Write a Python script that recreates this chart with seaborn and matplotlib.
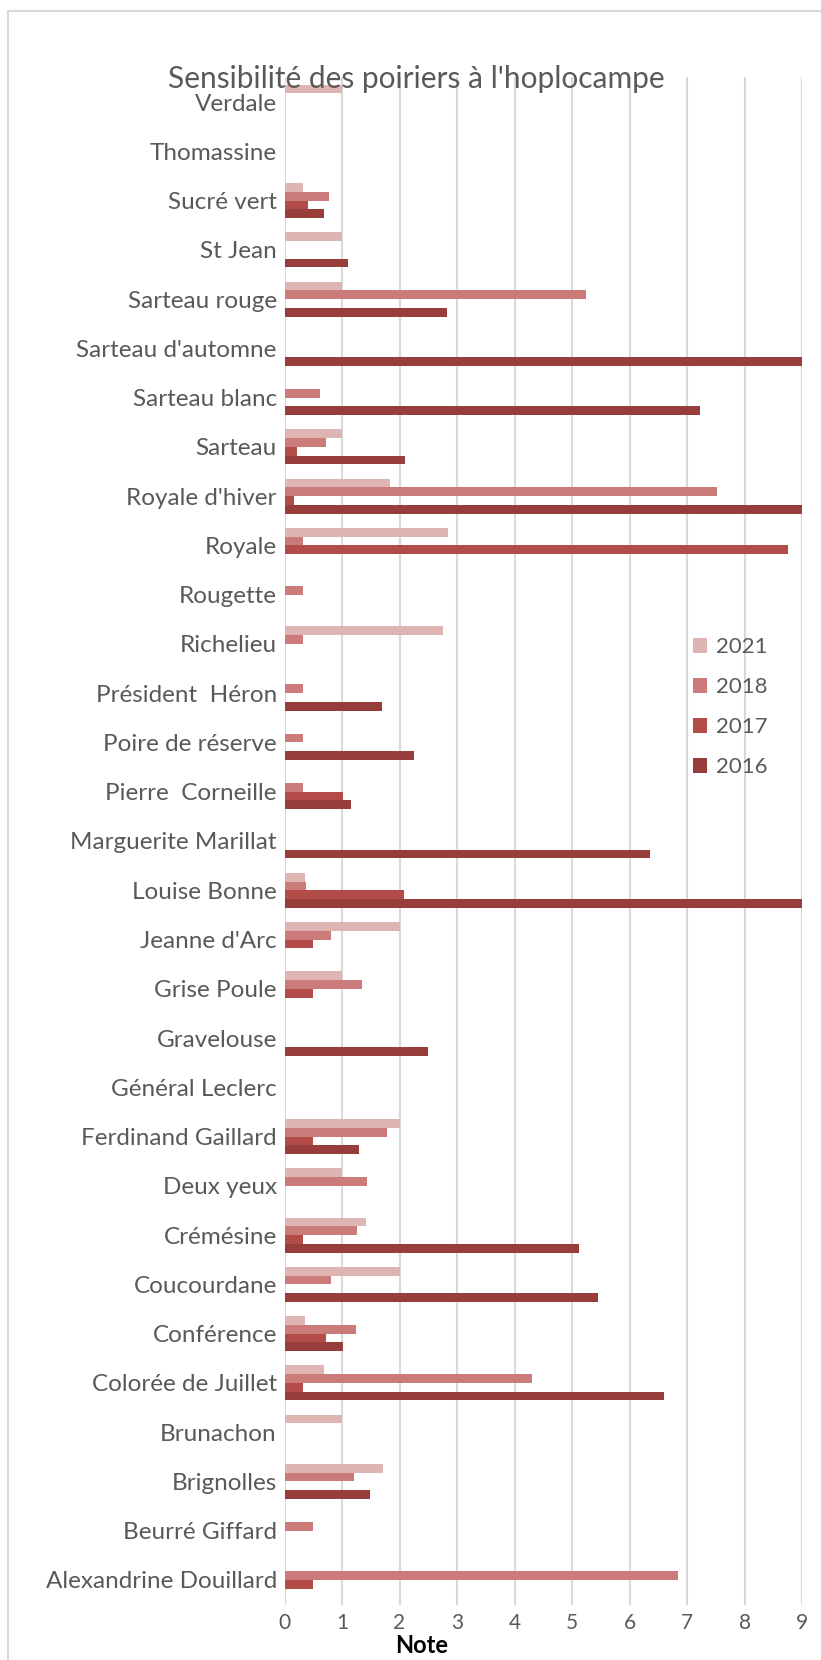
import numpy as np
import pandas as pd
import seaborn as sns
import matplotlib.pyplot as plt
from matplotlib.patches import Patch, Rectangle

# varieties, top to bottom as in the chart
varietes = ["Verdale", "Thomassine", "Sucré vert", "St Jean", "Sarteau rouge",
            "Sarteau d'automne", "Sarteau blanc", "Sarteau", "Royale d'hiver",
            "Royale", "Rougette", "Richelieu", "Président  Héron",
            "Poire de réserve", "Pierre  Corneille", "Marguerite Marillat",
            "Louise Bonne", "Jeanne d'Arc", "Grise Poule", "Gravelouse",
            "Général Leclerc", "Ferdinand Gaillard", "Deux yeux", "Crémésine",
            "Coucourdane", "Conférence", "Colorée de Juillet", "Brunachon",
            "Brignolles", "Beurré Giffard", "Alexandrine Douillard"]

annees = ["2021", "2018", "2017", "2016"]

n = None
note_2021 = [1.0, n, 0.33, 1.0, 1.0, n, n, 1.0, 1.84, 2.84, n, 2.75, n, n, n, n,
             0.36, 2.0, 1.0, n, n, 2.0, 1.0, 1.41, 2.0, 0.36, 0.68, 1.0, 1.72, n, n]
note_2018 = [n, n, 0.77, n, 5.24, n, 0.62, 0.73, 7.53, 0.33, 0.33, 0.33, 0.33, 0.33,
             0.33, n, 0.38, 0.81, 1.34, n, n, 1.78, 1.43, 1.26, 0.80, 1.24, 4.30,
             n, 1.20, 0.50, 6.84]
note_2017 = [n, n, 0.40, n, n, n, n, 0.21, 0.17, 8.76, n, n, n, n, 1.01, n, 2.07,
             0.50, 0.50, n, n, 0.50, n, 0.33, n, 0.73, 0.33, n, n, n, 0.50]
note_2016 = [n, n, 0.68, 1.11, 2.82, 9.0, 7.23, 2.09, 9.0, n, n, n, 1.69, 2.25,
             1.15, 6.36, 9.0, n, n, 2.50, n, 1.29, n, 5.12, 5.45, 1.01, 6.60, n,
             1.48, n, n]

couleurs = ["#dfb5b4", "#ca7b7a", "#b34b49", "#973e3c"]

rows = []
for an, vals in zip(annees, [note_2021, note_2018, note_2017, note_2016]):
    for v, x in zip(varietes, vals):
        if x is not None:
            rows.append({"variete": v, "annee": an, "note": x})
df = pd.DataFrame(rows)

sns.set_theme(style="white")
plt.rcParams["font.family"] = ["Lato", "DejaVu Sans"]
grey = "#595959"

fig = plt.figure(figsize=(8.21, 16.6), dpi=100)
ax = fig.add_axes([284.5 / 821, 1 - 1604.6 / 1660, (802 - 284.5) / 821,
                   (1604.6 - 77.4) / 1660])

sns.barplot(data=df, x="note", y="variete", hue="annee", order=varietes,
            hue_order=annees, palette=couleurs, saturation=1, orient="h",
            width=0.71, errorbar=None, linewidth=0, legend=False, ax=ax)

ax.set_xlim(0, 9)
ax.set_xticks(range(10))
ax.grid(axis="x", color="#d9d9d9", linewidth=1.5)
ax.grid(axis="y", visible=False)
ax.set_axisbelow(True)
for s in ax.spines.values():
    s.set_visible(False)
ax.tick_params(axis="x", length=0, pad=6, labelsize=15, labelcolor=grey)
ax.tick_params(axis="y", length=0, pad=5.5, labelsize=17.5, labelcolor=grey)
ax.set_xlabel("")
ax.set_ylabel("")

handles = [Patch(facecolor=c, edgecolor="none") for c in couleurs]
fig.legend(handles, annees, loc="center left", bbox_to_anchor=(673 / 821, 1 - 707 / 1660),
           frameon=False, fontsize=16, labelcolor=grey, handlelength=0.65,
           handleheight=0.65, handletextpad=0.4, labelspacing=0.9)

fig.text(416 / 821, 1 - 88 / 1660, "Sensibilité des poiriers à l'hoplocampe",
         ha="center", va="baseline", fontsize=21.5, color=grey)
fig.text(422 / 821, 1 - 1645 / 1660, "Note", ha="center", va="center",
         fontsize=17, fontweight="bold", color="black")

fig.patches.append(Rectangle((8 / 821, -0.05), 2, 0.05 + 1 - 11 / 1660,
                             transform=fig.transFigure, fill=False,
                             edgecolor="#d9d9d9", linewidth=1.5))

fig.savefig("out.png", dpi=100)
